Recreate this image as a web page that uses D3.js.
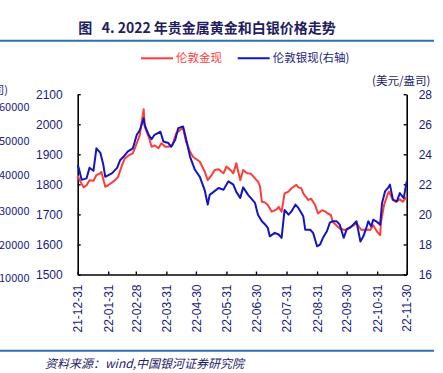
<!DOCTYPE html>
<html>
<head>
<meta charset="utf-8">
<script src="https://cdn.jsdelivr.net/npm/d3@7"></script>
<style>
  body { margin: 0; background: #fff; }
  svg { display: block; font-family: "Noto Sans CJK SC", "Liberation Sans", sans-serif; }
</style>
</head>
<body>
<svg class="chart" width="443" height="373"></svg>
<script>
// 伦敦金现 (美元/盎司)
var goldDates = ['2021-12-31','2022-01-02','2022-01-06','2022-01-09','2022-01-12','2022-01-16','2022-01-19','2022-01-23','2022-01-24','2022-01-28',
  '2022-01-31','2022-02-07','2022-02-10','2022-02-14','2022-02-17','2022-02-21','2022-02-25','2022-03-01','2022-03-04','2022-03-08',
  '2022-03-09','2022-03-13','2022-03-16','2022-03-19','2022-03-23','2022-03-26','2022-03-30','2022-04-02','2022-04-06','2022-04-10',
  '2022-04-14','2022-04-17','2022-04-20','2022-04-24','2022-04-27','2022-05-04','2022-05-09','2022-05-12','2022-05-16','2022-05-19',
  '2022-05-23','2022-05-28','2022-05-31','2022-06-04','2022-06-07','2022-06-10','2022-06-14','2022-06-17','2022-06-21','2022-06-25',
  '2022-06-29','2022-07-02','2022-07-04','2022-07-06','2022-07-09','2022-07-12','2022-07-16','2022-07-21','2022-07-23','2022-07-26',
  '2022-07-29','2022-08-02','2022-08-05','2022-08-10','2022-08-12','2022-08-15','2022-08-17','2022-08-22','2022-08-25','2022-08-29',
  '2022-09-01','2022-09-05','2022-09-08','2022-09-11','2022-09-14','2022-09-16','2022-09-23','2022-09-28','2022-10-03','2022-10-10',
  '2022-10-15','2022-10-20','2022-10-24','2022-10-27','2022-10-31','2022-11-03','2022-11-04','2022-11-07','2022-11-11','2022-11-12',
  '2022-11-16','2022-11-19','2022-11-23','2022-11-26','2022-11-30'];
var goldValues = [1829,1814,1790,1797,1814,1812,1831,1837,1842,1792,
  1797,1814,1825,1864,1887,1897,1903,1937,1964,2050,
  1992,1959,1925,1930,1920,1937,1925,1925,1930,1970,
  1981,1987,1942,1909,1892,1875,1842,1814,1831,1848,
  1850,1837,1859,1848,1837,1870,1814,1848,1837,1835,
  1820,1809,1795,1742,1740,1731,1709,1717,1725,1709,
  1770,1776,1787,1798,1790,1787,1770,1748,1752,1731,
  1703,1714,1710,1703,1698,1675,1653,1648,1655,1670,
  1648,1650,1648,1664,1642,1631,1675,1731,1770,1776,
  1748,1742,1750,1742,1759];

// 伦敦银现 (右轴)
var silverDates = ['2021-12-31','2022-01-01','2022-01-04','2022-01-09','2022-01-12','2022-01-16','2022-01-19','2022-01-23','2022-01-26','2022-01-28',
  '2022-02-04','2022-02-09','2022-02-12','2022-02-15','2022-02-20','2022-02-25','2022-03-01','2022-03-04','2022-03-08','2022-03-09',
  '2022-03-13','2022-03-16','2022-03-19','2022-03-25','2022-03-28','2022-04-02','2022-04-05','2022-04-09','2022-04-12','2022-04-17',
  '2022-04-21','2022-04-24','2022-04-29','2022-05-04','2022-05-09','2022-05-12','2022-05-14','2022-05-18','2022-05-23','2022-05-28',
  '2022-06-02','2022-06-07','2022-06-10','2022-06-14','2022-06-17','2022-06-22','2022-06-26','2022-06-29','2022-07-02','2022-07-06',
  '2022-07-09','2022-07-12','2022-07-14','2022-07-19','2022-07-23','2022-07-26','2022-07-29','2022-08-02','2022-08-05','2022-08-09',
  '2022-08-12','2022-08-17','2022-08-19','2022-08-24','2022-08-27','2022-08-31','2022-09-03','2022-09-06','2022-09-10','2022-09-13',
  '2022-09-16','2022-09-20','2022-09-23','2022-09-27','2022-09-30','2022-10-05','2022-10-10','2022-10-14','2022-10-17','2022-10-20',
  '2022-10-22','2022-10-25','2022-10-27','2022-10-30','2022-11-03','2022-11-05','2022-11-08','2022-11-11','2022-11-13','2022-11-16',
  '2022-11-20','2022-11-23','2022-11-27','2022-11-30'];
var silverValues = [23.3,23.1,22.3,22.4,23.1,22.9,24.4,24.1,23.3,22.5,
  22.75,23.1,23.6,23.8,24.2,24.4,25.3,25.6,26.4,25.96,
  25.3,25.0,25.3,25.5,24.85,24.75,24.5,24.96,25.74,25.85,
  24.75,23.85,22.97,22.5,21.6,20.65,21.3,21.5,21.76,21.64,
  22.2,21.98,21.5,21.1,21.8,21.3,21.0,20.76,19.98,19.54,
  19.35,19.1,18.54,18.77,18.66,18.44,20.3,19.98,20.2,20.65,
  20.43,19.87,18.98,18.98,18.77,17.88,17.99,18.44,18.88,19.45,
  19.55,19.54,19.32,18.44,18.99,19.2,19.54,18.2,18.54,19.1,
  19.54,19.2,19.65,19.54,19.32,20.76,21.53,21.76,21.98,20.98,
  20.87,21.42,21.09,22.2];

var tickDates = ['2021-12-31','2022-01-31','2022-02-28','2022-03-31','2022-04-30','2022-05-31',
  '2022-06-30','2022-07-31','2022-08-31','2022-09-30','2022-10-31','2022-11-30'];
var goldTicks = [1500, 1600, 1700, 1800, 1900, 2000, 2100];
var silverTicks = [16, 18, 20, 22, 24, 26, 28];
// labels of the neighbouring chart, cut off at the left edge
var sideLabels = ['60000', '50000', '40000', '30000', '20000', '10000'];

var parse = d3.timeParse('%Y-%m-%d');
var fmt = d3.timeFormat('%y-%m-%d');

var gold = goldDates.map(function(d, i) { return { date: parse(d), value: goldValues[i] }; });
var silver = silverDates.map(function(d, i) { return { date: parse(d), value: silverValues[i] }; });

var navy = '#1c1c80';
var redColor = '#ff3b3b';
var blueColor = '#1515bf';
var ruleColor = '#2f6ea8';

var plot = { left: 77.7, right: 406.7, top: 94.2, bottom: 274.5 };

var svg = d3.select('.chart');

svg.append('rect').attr('width', 443).attr('height', 373).attr('fill', '#fff');

// title + rules
svg.append('text')
    .attr('x', 207).attr('y', 33)
    .attr('text-anchor', 'middle')
    .attr('font-size', 14)
    .attr('font-weight', 'bold')
    .attr('fill', '#1f2060')
    .text('图\u00a0\u00a0 4. 2022 年贵金属黄金和白银价格走势');

svg.append('line').attr('x1', 0).attr('x2', 434).attr('y1', 40.7).attr('y2', 40.7)
    .attr('stroke', ruleColor).attr('stroke-width', 2);
svg.append('line').attr('x1', 0).attr('x2', 434).attr('y1', 350.7).attr('y2', 350.7)
    .attr('stroke', ruleColor).attr('stroke-width', 2);

// legend
var legend = [
  { name: '伦敦金现', color: redColor, text: redColor, x: 141 },
  { name: '伦敦银现(右轴)', color: blueColor, text: navy, x: 237.7 }
];
legend.forEach(function(l) {
  svg.append('line').attr('x1', l.x).attr('x2', l.x + 32).attr('y1', 58.3).attr('y2', 58.3)
      .attr('stroke', l.color).attr('stroke-width', 2);
  svg.append('text').attr('x', l.x + 35).attr('y', 62.3)
      .attr('font-size', 11.5).attr('fill', l.text).text(l.name);
});

svg.append('text').attr('x', 372).attr('y', 85)
    .attr('font-size', 11.5).attr('fill', '#22226a').text('(美元/盎司)');

// left edge leftovers
svg.append('text').attr('x', 8).attr('y', 94).attr('text-anchor', 'end')
    .attr('font-size', 11).attr('fill', navy).text('(盎司)');
var sideY = [107, 141, 175, 211, 245, 278];
sideLabels.forEach(function(t, i) {
  svg.append('text').attr('x', 29.5).attr('y', sideY[i] + 4).attr('text-anchor', 'end')
      .attr('font-size', 11).attr('fill', navy).text(t);
});

// scales
var x = d3.scaleTime()
    .domain([parse(tickDates[0]), parse(tickDates[tickDates.length - 1])])
    .range([plot.left, plot.right]);
var y1 = d3.scaleLinear().domain([1500, 2100]).range([plot.bottom, plot.top]);
var y2 = d3.scaleLinear().domain([16, 28]).range([plot.bottom, plot.top]);

var xAxis = d3.axisBottom(x)
    .tickValues(tickDates.map(parse))
    .tickFormat(fmt)
    .tickSizeInner(-3).tickSizeOuter(0);
var yAxisL = d3.axisLeft(y1).tickValues(goldTicks).tickFormat(d3.format('d'))
    .tickSizeInner(-3).tickSizeOuter(0).tickPadding(15);
var yAxisR = d3.axisRight(y2).tickValues(silverTicks).tickFormat(d3.format('d'))
    .tickSizeInner(-3).tickSizeOuter(0).tickPadding(12);

function styleAxis(g) {
  g.select('.domain').attr('stroke', '#000').attr('stroke-width', 1.6);
  g.selectAll('.tick line').attr('stroke', '#000').attr('stroke-width', 1.4);
  g.selectAll('.tick text').attr('fill', navy)
      .attr('font-family', '"Liberation Sans", Arial, sans-serif');
}

var gx = svg.append('g').attr('transform', 'translate(0,' + plot.bottom + ')').call(xAxis);
styleAxis(gx);
gx.selectAll('.tick text')
    .attr('font-size', 12)
    .attr('transform', 'rotate(-90)')
    .attr('text-anchor', 'end')
    .attr('x', -10)
    .attr('y', 0)
    .attr('dy', '0.35em');

var gl = svg.append('g').attr('transform', 'translate(' + plot.left + ',0)').call(yAxisL);
styleAxis(gl);
gl.selectAll('.tick text').attr('font-size', 12);

var gr = svg.append('g').attr('transform', 'translate(' + plot.right + ',0)').call(yAxisR);
styleAxis(gr);
gr.selectAll('.tick text').attr('font-size', 12);

// lines
var goldLine = d3.line()
    .x(function(d) { return x(d.date); })
    .y(function(d) { return y1(d.value); });
var silverLine = d3.line()
    .x(function(d) { return x(d.date); })
    .y(function(d) { return y2(d.value); });

svg.append('path').datum(gold)
    .attr('d', goldLine)
    .attr('fill', 'none')
    .attr('stroke', redColor)
    .attr('stroke-width', 2)
    .attr('stroke-linejoin', 'round');

svg.append('path').datum(silver)
    .attr('d', silverLine)
    .attr('fill', 'none')
    .attr('stroke', blueColor)
    .attr('stroke-width', 2)
    .attr('stroke-linejoin', 'round');

// source
svg.append('text').attr('x', 45).attr('y', 367.5)
    .attr('font-size', 12)
    .attr('font-style', 'italic')
    .attr('fill', '#22226a')
    .text('资料来源：wind,中国银河证券研究院');
</script>
</body>
</html>
